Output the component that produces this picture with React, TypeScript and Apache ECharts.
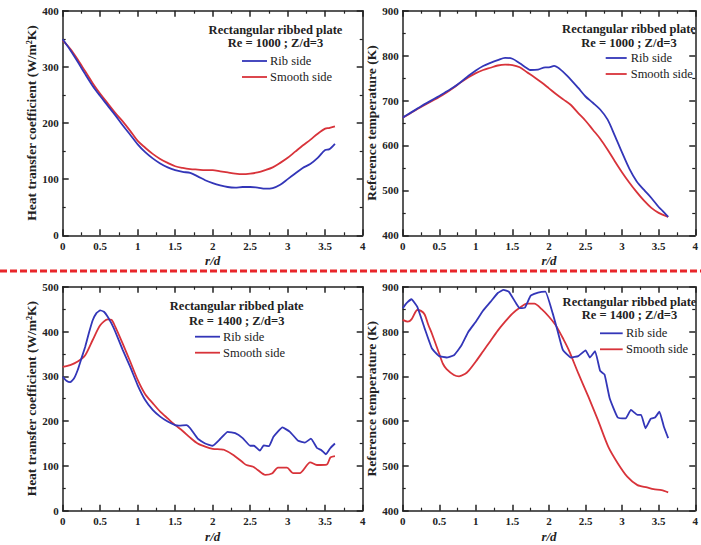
import React, { useEffect, useRef } from "react";
import * as echarts from "echarts";

// Panel 1: Re = 1000, heat transfer coefficient
const r1 = [0, 0.1, 0.2, 0.3, 0.4, 0.5, 0.6, 0.7, 0.8, 0.9, 1.0, 1.1, 1.2, 1.3, 1.4, 1.5, 1.6, 1.7, 1.8, 1.9, 2.0, 2.1, 2.2, 2.3, 2.4, 2.5, 2.6, 2.7, 2.8, 2.9, 3.0, 3.1, 3.2, 3.3, 3.4, 3.5, 3.55, 3.63];
const hRib1 = [349, 330, 309, 287, 266, 248, 231, 214, 196, 179, 162, 148, 137, 128, 121, 116, 113, 111, 105, 98, 93, 89, 86, 85, 86, 86, 85, 83, 84, 90, 100, 110, 120, 127, 138, 152, 153, 163];
const hSmooth1 = [347, 332, 313, 292, 271, 252, 235, 218, 203, 186, 168, 156, 145, 136, 129, 123, 120, 118, 117, 116, 116, 114, 112, 110, 109, 110, 112, 116, 121, 129, 138, 149, 160, 170, 181, 190, 191, 194];

// Panel 2: Re = 1000, reference temperature
const rRib2 = [0, 0.1, 0.2, 0.3, 0.4, 0.5, 0.6, 0.7, 0.8, 0.9, 1.0, 1.1, 1.2, 1.3, 1.4, 1.5, 1.6, 1.7, 1.75, 1.85, 1.95, 2.0, 2.07, 2.15, 2.25, 2.4, 2.5, 2.6, 2.7, 2.8, 2.9, 3.0, 3.1, 3.2, 3.3, 3.4, 3.5, 3.55, 3.63];
const tRib2 = [662, 672, 682, 692, 701, 710, 720, 730, 742, 755, 767, 777, 784, 790, 795, 793, 783, 772, 768, 769, 774, 774, 777, 770, 755, 728, 709, 695, 680, 658, 622, 584, 548, 520, 501, 483, 463, 455, 441];
const rSmooth2 = [0, 0.1, 0.2, 0.3, 0.4, 0.5, 0.6, 0.7, 0.8, 0.9, 1.0, 1.1, 1.2, 1.3, 1.4, 1.5, 1.6, 1.7, 1.8, 1.9, 2.0, 2.1, 2.2, 2.3, 2.4, 2.5, 2.6, 2.7, 2.8, 2.9, 3.0, 3.1, 3.2, 3.3, 3.4, 3.5, 3.63];
const tSmooth2 = [662, 671, 681, 690, 699, 708, 718, 729, 741, 752, 761, 768, 773, 778, 780, 779, 774, 763, 752, 740, 727, 714, 702, 690, 672, 655, 635, 615, 591, 565, 540, 517, 496, 477, 461, 450, 441];

// Panel 3: Re = 1400, heat transfer coefficient
const rRib3 = [0, 0.05, 0.1, 0.15, 0.2, 0.25, 0.3, 0.35, 0.4, 0.45, 0.5, 0.55, 0.6, 0.65, 0.7, 0.8, 0.9, 1.0, 1.1, 1.2, 1.3, 1.4, 1.5, 1.55, 1.65, 1.7, 1.8, 1.9, 2.0, 2.1, 2.2, 2.3, 2.4, 2.5, 2.55, 2.63, 2.68, 2.75, 2.81, 2.93, 3.03, 3.14, 3.23, 3.31, 3.39, 3.45, 3.51, 3.57, 3.63];
const hRib3 = [299, 290, 287, 295, 314, 340, 366, 397, 425, 441, 447, 444, 433, 418, 400, 359, 321, 280, 247, 225, 210, 199, 191, 190, 191, 184, 161, 150, 145, 160, 176, 173, 162, 145, 145, 134, 146, 144, 165, 186, 176, 156, 152, 161, 140, 135, 126, 140, 150];
const rSmooth3 = [0, 0.1, 0.2, 0.3, 0.4, 0.5, 0.6, 0.65, 0.7, 0.8, 0.9, 1.0, 1.1, 1.2, 1.3, 1.4, 1.5, 1.6, 1.7, 1.8, 1.9, 2.0, 2.1, 2.15, 2.28, 2.4, 2.45, 2.54, 2.6, 2.7, 2.79, 2.87, 2.99, 3.07, 3.16, 3.3, 3.39, 3.52, 3.57, 3.63];
const hSmooth3 = [321, 325, 333, 347, 381, 414, 427, 426, 411, 373, 333, 292, 260, 240, 221, 206, 191, 178, 163, 150, 143, 138, 137, 136, 124, 108, 102, 98, 91, 80, 83, 96, 96, 84, 84, 108, 102, 103, 119, 122];

// Panel 4: Re = 1400, reference temperature
const rRib4 = [0, 0.05, 0.12, 0.2, 0.3, 0.4, 0.5, 0.6, 0.7, 0.8, 0.9, 1.0, 1.1, 1.2, 1.3, 1.38, 1.45, 1.55, 1.6, 1.67, 1.75, 1.85, 1.95, 2.05, 2.12, 2.19, 2.3, 2.4, 2.5, 2.56, 2.63, 2.7, 2.76, 2.83, 2.94, 3.05, 3.12, 3.21, 3.26, 3.32, 3.39, 3.45, 3.51, 3.57, 3.63];
const tRib4 = [852, 863, 872, 855, 807, 762, 745, 742, 747, 768, 800, 822, 847, 866, 886, 893, 889, 863, 852, 853, 880, 887, 889, 841, 800, 759, 742, 745, 758, 742, 756, 712, 704, 651, 608, 606, 625, 614, 614, 584, 605, 608, 621, 588, 562];
const rSmooth4 = [0, 0.07, 0.12, 0.2, 0.25, 0.3, 0.35, 0.4, 0.5, 0.55, 0.6, 0.7, 0.77, 0.85, 0.9, 1.0, 1.1, 1.2, 1.3, 1.4, 1.5, 1.6, 1.7, 1.8, 1.9, 2.0, 2.1, 2.2, 2.27, 2.4, 2.54, 2.67, 2.81, 2.94, 3.07, 3.21, 3.34, 3.43, 3.54, 3.63];
const tSmooth4 = [826, 822, 827, 848, 846, 838, 815, 795, 750, 728, 716, 703, 700, 705, 712, 733, 756, 779, 802, 822, 840, 853, 862, 862, 850, 833, 812, 782, 759, 707, 654, 602, 543, 506, 476, 457, 452, 448, 446, 441];

const xTicks = { min: 0, max: 4, interval: 0.5 };
const yNames = ["Heat transfer coefficient (W/m\u00B2K)", "Reference temperature (K)"];
const titles = ["Rectangular ribbed plate", "Re = 1000 ; Z/d=3", "Re = 1400 ; Z/d=3"];
const seriesNames = ["Rib side", "Smooth side"];

const FONT = "'Liberation Serif', 'Times New Roman', serif";
const BLUE = "#3336b8";
const RED = "#d8333a";
const AX = "#222";

const zip = (xs: number[], ys: number[]) => xs.map((x, i) => [x, ys[i]]);

export default function App() {
  const ref = useRef<HTMLDivElement>(null);
  useEffect(() => {
    if (!ref.current) return;
    const chart = echarts.init(ref.current, undefined, { renderer: "svg" });

    const grids = [
      { left: 62.7, top: 10.7, width: 300, height: 224.6 },
      { left: 402.7, top: 10.7, width: 300, height: 224.6 },
      { left: 62.7, top: 286.7, width: 300, height: 224 },
      { left: 402.7, top: 286.7, width: 300, height: 224 },
    ];
    const yRanges = [
      { min: 0, max: 400, interval: 100 },
      { min: 400, max: 900, interval: 100 },
      { min: 0, max: 500, interval: 100 },
      { min: 400, max: 900, interval: 100 },
    ];

    const lineStyle = { color: AX, width: 1.5 };
    const xAxis: any[] = [];
    const yAxis: any[] = [];
    grids.forEach((_, gi) => {
      const common = {
        type: "value",
        gridIndex: gi,
        ...xTicks,
        axisLine: { show: true, onZero: false, lineStyle },
        axisTick: { show: true, inside: true, length: 6, lineStyle },
        minorTick: { show: true, splitNumber: 2, length: 3, lineStyle: { color: AX, width: 1.2 } },
        splitLine: { show: false },
      };
      xAxis.push({
        ...common,
        position: "bottom",
        axisLabel: { fontFamily: FONT, fontWeight: "bold", fontSize: 11, color: AX, margin: 5, showMaxLabel: true },
        name: "r/d",
        nameLocation: "middle",
        nameGap: 19,
        nameTextStyle: { fontFamily: FONT, fontStyle: "italic", fontWeight: "bold", fontSize: 13, color: AX },
      });
      xAxis.push({ ...common, position: "top", axisLabel: { show: false } });
      const yc = {
        type: "value",
        gridIndex: gi,
        ...yRanges[gi],
        axisLine: { show: true, onZero: false, lineStyle },
        axisTick: { show: true, inside: true, length: 6, lineStyle },
        minorTick: { show: true, splitNumber: 2, length: 3, lineStyle: { color: AX, width: 1.2 } },
        splitLine: { show: false },
      };
      yAxis.push({
        ...yc,
        position: "left",
        axisLabel: { fontFamily: FONT, fontWeight: "bold", fontSize: 11, color: AX, margin: 4 },
        name: yNames[gi % 2],
        nameLocation: "middle",
        nameGap: 23,
        nameTextStyle: { fontFamily: FONT, fontWeight: "bold", fontSize: 13.5, color: AX },
      });
      yAxis.push({ ...yc, position: "right", axisLabel: { show: false } });
    });

    const data = [
      [zip(r1, hRib1), zip(r1, hSmooth1)],
      [zip(rRib2, tRib2), zip(rSmooth2, tSmooth2)],
      [zip(rRib3, hRib3), zip(rSmooth3, hSmooth3)],
      [zip(rRib4, tRib4), zip(rSmooth4, tSmooth4)],
    ];
    const series: any[] = [];
    data.forEach((pair, gi) => {
      pair.forEach((d, si) => {
        series.push({
          type: "line",
          name: seriesNames[si],
          xAxisIndex: gi * 2,
          yAxisIndex: gi * 2,
          data: d,
          showSymbol: false,
          smooth: gi < 2 ? 0.3 : si === 1 ? 0.25 : 0.12,
          lineStyle: { color: si === 0 ? BLUE : RED, width: 1.8 },
          itemStyle: { color: si === 0 ? BLUE : RED },
          z: si === 0 ? 3 : 2,
        });
      });
    });

    const legendLayout = [
      { cx: 275.5, ty: [30, 43], lx: 242, lw: 25, tx: 270, ry: [61, 77], re: 1 },
      { cx: 629, ty: [29, 43], lx: 605.7, lw: 21, tx: 630.7, ry: [58, 74], re: 1 },
      { cx: 236.7, ty: [306, 320.7], lx: 195, lw: 25, tx: 223, ry: [336.7, 352.7], re: 2 },
      { cx: 629.5, ty: [301.7, 315], lx: 600, lw: 22.7, tx: 626, ry: [333.3, 349.3], re: 2 },
    ];
    const graphic: any[] = [];
    legendLayout.forEach((L) => {
      [titles[0], titles[L.re]].forEach((t, i) => {
        graphic.push({
          type: "text",
          x: L.cx,
          y: L.ty[i],
          style: { text: t, fontFamily: FONT, fontWeight: "bold", fontSize: 12.5, fill: AX, textAlign: "center", textVerticalAlign: "middle" },
        });
      });
      seriesNames.forEach((n, i) => {
        graphic.push({
          type: "line",
          shape: { x1: L.lx, y1: L.ry[i], x2: L.lx + L.lw, y2: L.ry[i] },
          style: { stroke: i === 0 ? BLUE : RED, lineWidth: 1.8 },
        });
        graphic.push({
          type: "text",
          x: L.tx,
          y: L.ry[i],
          style: { text: n, fontFamily: FONT, fontSize: 12.5, fill: AX, textAlign: "left", textVerticalAlign: "middle" },
        });
      });
    });
    graphic.push({
      type: "line",
      shape: { x1: 0, y1: 271, x2: 701, y2: 271 },
      style: { stroke: "#e8262b", lineWidth: 3, lineDash: [7, 3] },
    });

    chart.setOption({
      animation: false,
      backgroundColor: "#fff",
      grid: grids,
      xAxis,
      yAxis,
      series,
      graphic,
    });
    return () => chart.dispose();
  }, []);
  return <div ref={ref} style={{ position: "absolute", left: 0, top: 0, width: 701, height: 545 }} />;
}
